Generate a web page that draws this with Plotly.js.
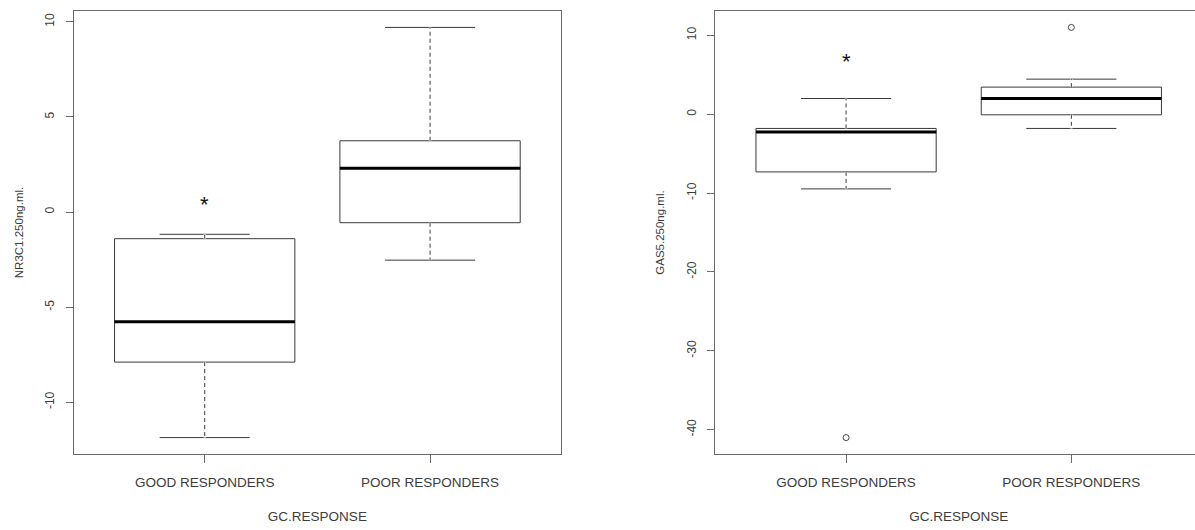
<!DOCTYPE html>
<html>
<head>
<meta charset="utf-8">
<script src="https://cdn.plot.ly/plotly-3.0.1.min.js"></script>
<style>
  html, body { margin: 0; padding: 0; background: #ffffff; overflow: hidden; }
  #wrap { width: 1195px; height: 530px; overflow: hidden; }
  #chart { width: 1204px; height: 530px; }
</style>
</head>
<body>
<div id="wrap"><div id="chart"></div></div>
<script>
// ---- data ----
const categories = ['GOOD RESPONDERS', 'POOR RESPONDERS'];
const catPos = [1, 2];

// NR3C1.250ng.ml.
const nr3c1Lower  = [-11.86, -2.53];
const nr3c1Q1     = [-7.89, -0.56];
const nr3c1Median = [-5.77, 2.31];
const nr3c1Q3     = [-1.40, 3.75];
const nr3c1Upper  = [-1.17, 9.71];
const nr3c1OutlierX = [];
const nr3c1OutlierY = [];
const nr3c1StarX = [1];
const nr3c1StarY = [0.53];

// GAS5.250ng.ml.
const gas5Lower  = [-9.47, -1.81];
const gas5Q1     = [-7.32, -0.08];
const gas5Median = [-2.26, 1.99];
const gas5Q3     = [-1.81, 3.43];
const gas5Upper  = [1.99, 4.44];
const gas5OutlierX = [1, 2];
const gas5OutlierY = [-41, 11];
const gas5StarX = [1];
const gas5StarY = [6.97];

const nr3c1Ticks = [-10, -5, 0, 5, 10];
const gas5Ticks  = [-40, -30, -20, -10, 0, 10];

// ---- styling ----
const FONT = 'Liberation Sans, Arial, sans-serif';
const TEXT = '#3c3c3c';
const FRAME = '#6a6a6a';
const BOXLINE = '#3a3a3a';
const BOXW = 0.8;

function rRange(values) {
  const lo = Math.min(...values), hi = Math.max(...values);
  const pad = (hi - lo) * 0.04;
  return [lo - pad, hi + pad];
}

function panel(ax, ay, lower, q1, med, q3, upper, outX, outY) {
  const traces = [];
  traces.push({
    type: 'box', xaxis: ax, yaxis: ay,
    x: catPos, q1: q1, median: med, q3: q3,
    lowerfence: lower, upperfence: upper,
    width: BOXW, whiskerwidth: 0.5,
    boxpoints: false, fillcolor: '#ffffff',
    line: { color: BOXLINE, width: 1 },
    showlegend: false, hoverinfo: 'skip'
  });
  // dashed whiskers (cover the solid ones, then dash)
  const wx = [], wy = [];
  catPos.forEach((p, i) => {
    wx.push(p, p, null, p, p, null);
    wy.push(q3[i], upper[i], null, q1[i], lower[i], null);
  });
  traces.push({ type: 'scatter', mode: 'lines', xaxis: ax, yaxis: ay, x: wx, y: wy,
    line: { color: '#ffffff', width: 2.5 }, showlegend: false, hoverinfo: 'skip' });
  traces.push({ type: 'scatter', mode: 'lines', xaxis: ax, yaxis: ay, x: wx, y: wy,
    line: { color: BOXLINE, width: 1, dash: '4px,3px' }, showlegend: false, hoverinfo: 'skip' });
  // thick medians
  const mx = [], my = [];
  catPos.forEach((p, i) => {
    mx.push(p - BOXW / 2, p + BOXW / 2, null);
    my.push(med[i], med[i], null);
  });
  traces.push({ type: 'scatter', mode: 'lines', xaxis: ax, yaxis: ay, x: mx, y: my,
    line: { color: '#000000', width: 3 }, showlegend: false, hoverinfo: 'skip' });
  if (outX.length) {
    traces.push({ type: 'scatter', mode: 'markers', xaxis: ax, yaxis: ay, x: outX, y: outY,
      marker: { symbol: 'circle-open', size: 6, color: '#444444', line: { width: 1 } },
      showlegend: false, hoverinfo: 'skip' });
  }
  return traces;
}

const data = [].concat(
  panel('x', 'y', nr3c1Lower, nr3c1Q1, nr3c1Median, nr3c1Q3, nr3c1Upper, nr3c1OutlierX, nr3c1OutlierY),
  panel('x2', 'y2', gas5Lower, gas5Q1, gas5Median, gas5Q3, gas5Upper, gas5OutlierX, gas5OutlierY)
);

const yr1 = rRange([].concat(nr3c1Lower, nr3c1Upper, nr3c1OutlierY));
const yr2 = rRange([].concat(gas5Lower, gas5Upper, gas5OutlierY));

function xAxis(domain, anchor) {
  return {
    domain: domain, anchor: anchor, range: [0.42, 2.58],
    tickmode: 'array', tickvals: catPos, ticktext: categories,
    ticks: 'outside', ticklen: 8, tickcolor: FRAME, tickwidth: 1,
    showline: true, mirror: true, linecolor: FRAME, linewidth: 1,
    showgrid: false, zeroline: false, automargin: false,
    ticklabelstandoff: 8,
    tickfont: { family: FONT, size: 13.5, color: TEXT },
    title: { text: 'GC.RESPONSE', font: { family: FONT, size: 13.5, color: TEXT }, standoff: 22 }
  };
}
function yAxis(range, ticks, anchor, title) {
  return {
    domain: [0, 1], anchor: anchor, range: range,
    tickmode: 'array', tickvals: ticks, ticktext: ticks.map(String),
    tickangle: -90,
    ticks: 'outside', ticklen: 7, tickcolor: FRAME, tickwidth: 1,
    showline: true, mirror: true, linecolor: FRAME, linewidth: 1,
    showgrid: false, zeroline: false, automargin: false,
    ticklabelstandoff: 7,
    tickfont: { family: FONT, size: 12, color: TEXT },
    title: { text: title, font: { family: FONT, size: 11.5, color: TEXT }, standoff: 17 }
  };
}

const starFont = { family: FONT, size: 22, color: '#111111' };
const annotations = [];
nr3c1StarX.forEach((x, i) => annotations.push({ xref: 'x', yref: 'y', x: x, y: nr3c1StarY[i], text: '*',
  showarrow: false, font: starFont, yshift: -3 }));
gas5StarX.forEach((x, i) => annotations.push({ xref: 'x2', yref: 'y2', x: x, y: gas5StarY[i], text: '*',
  showarrow: false, font: starFont, yshift: -2.5 }));

const layout = {
  width: 1204, height: 530,
  margin: { l: 74, r: 1.5, t: 11, b: 75.5 },
  paper_bgcolor: '#ffffff', plot_bgcolor: '#ffffff',
  showlegend: false,
  xaxis: xAxis([0, 0.43154], 'y'),
  yaxis: yAxis(yr1, nr3c1Ticks, 'x', 'NR3C1.250ng.ml.'),
  xaxis2: xAxis([0.56863, 1], 'y2'),
  yaxis2: yAxis(yr2, gas5Ticks, 'x2', 'GAS5.250ng.ml.'),
  annotations: annotations
};

Plotly.newPlot('chart', data, layout, { displayModeBar: false, staticPlot: true });
</script>
</body>
</html>
